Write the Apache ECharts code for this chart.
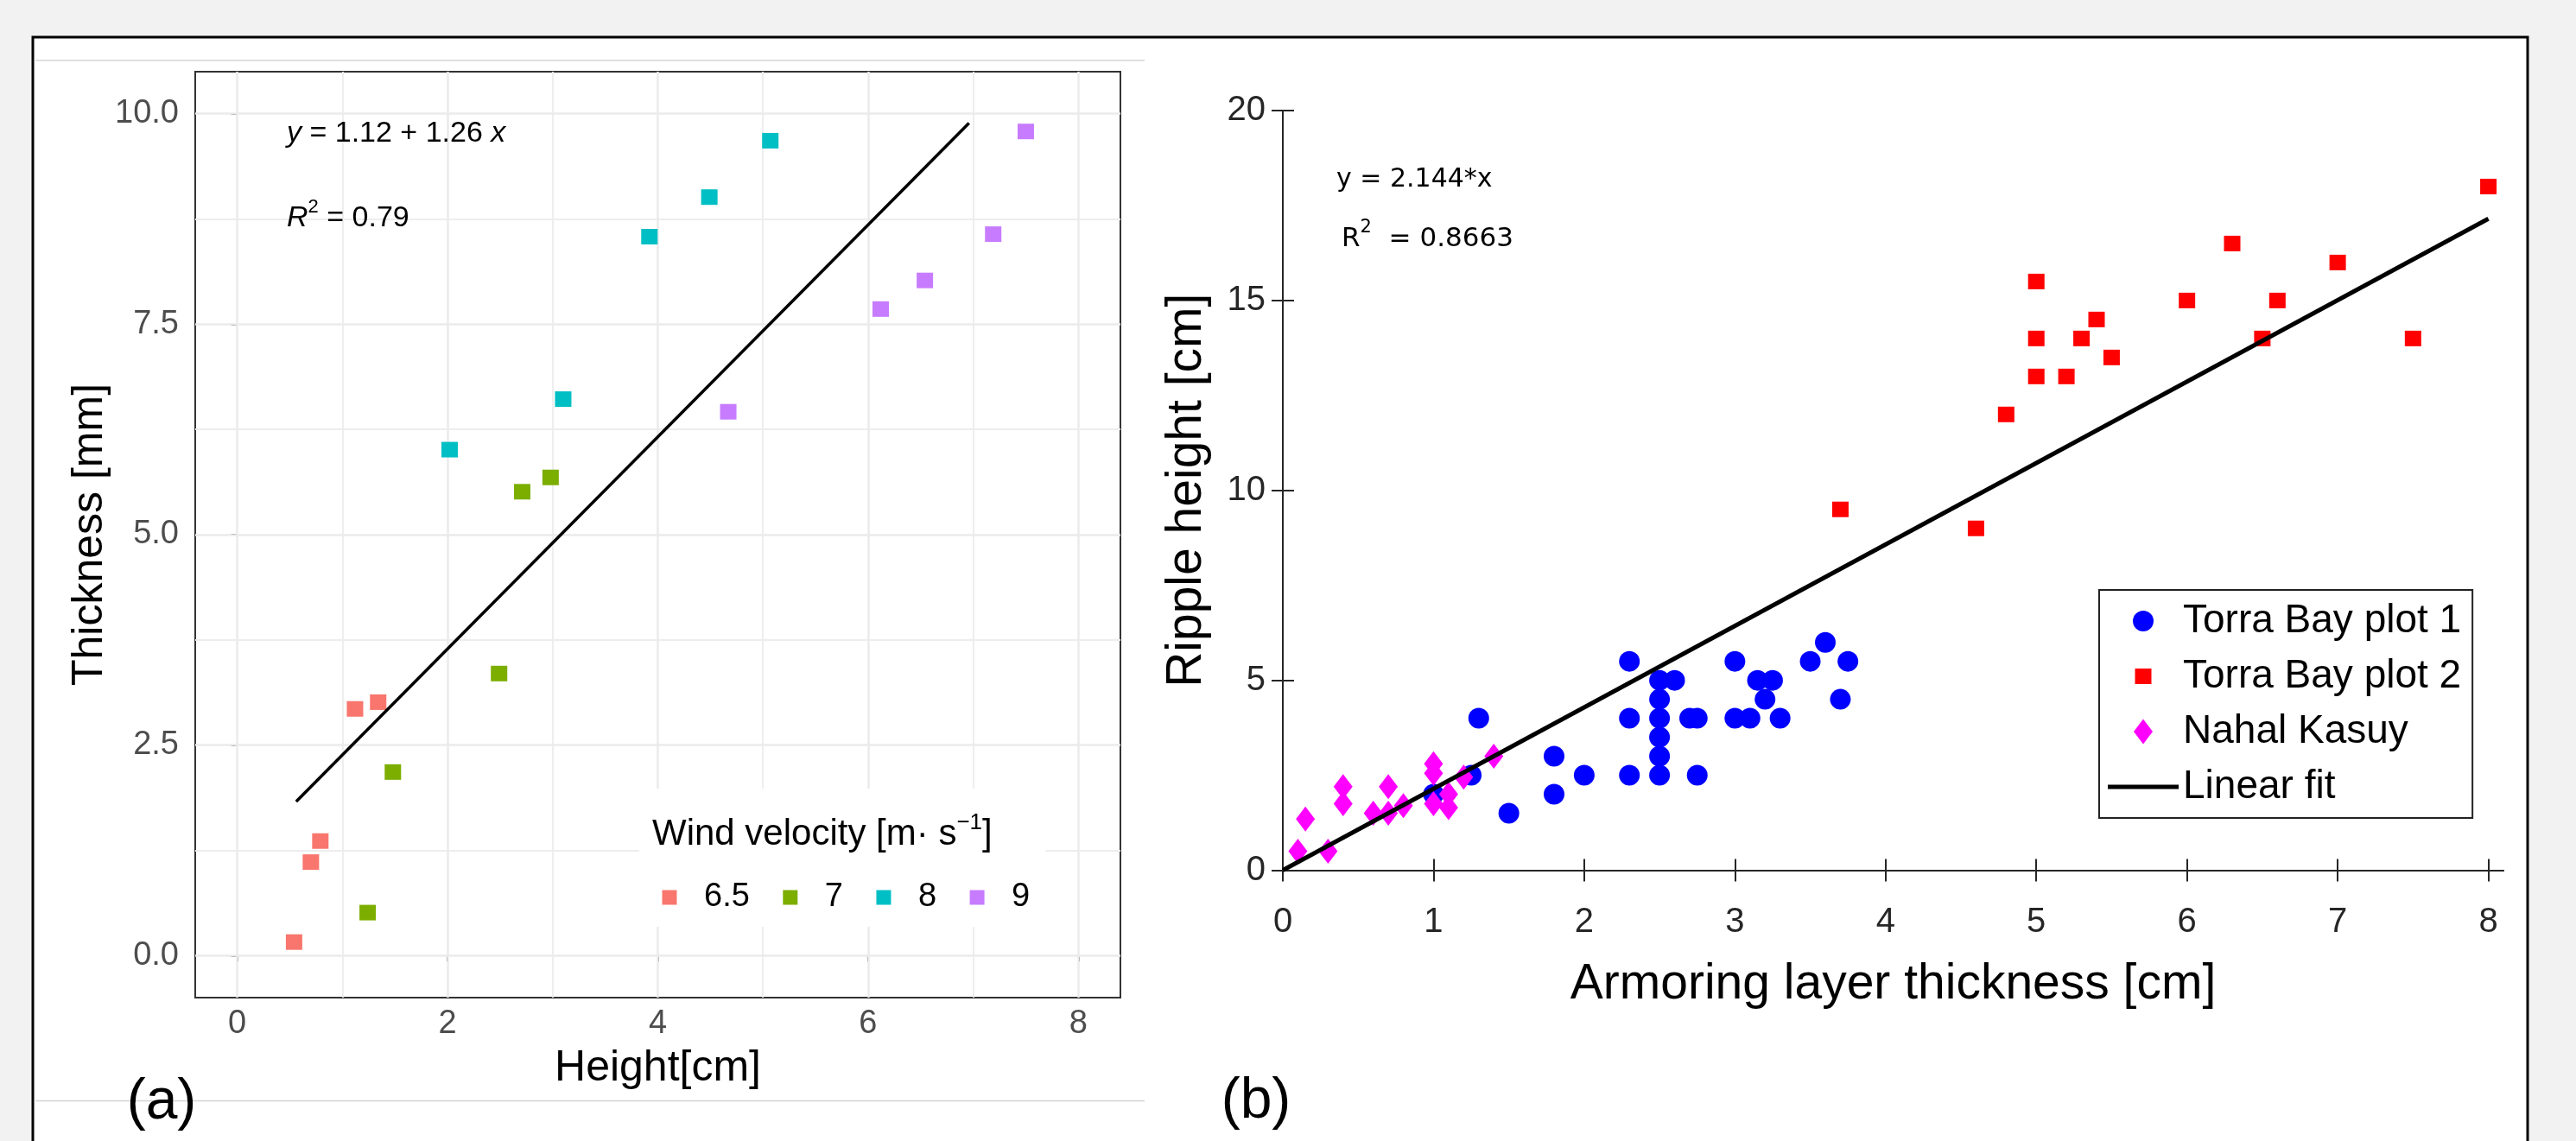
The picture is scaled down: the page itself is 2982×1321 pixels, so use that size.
<!DOCTYPE html>
<html>
<head>
<meta charset="utf-8">
<script src="https://cdn.jsdelivr.net/npm/echarts@6/dist/echarts.min.js"></script>
<style>
html,body{margin:0;padding:0;background:#f2f2f2;}
#c{width:2982px;height:1321px;}
</style>
</head>
<body>
<div id="c"></div>
<script>
// ---------- Panel (a): Thickness vs Height, by wind velocity ----------
const windLevels = ['6.5', '7', '8', '9'];
const a65X = [0.54, 0.70, 0.79, 1.12, 1.34];
const a65Y = [0.16, 1.11, 1.36, 2.93, 3.01];
const a7X  = [1.24, 1.48, 2.49, 2.71, 2.98];
const a7Y  = [0.51, 2.18, 3.35, 5.51, 5.68];
const a8X  = [2.02, 3.10, 3.92, 4.49, 5.07];
const a8Y  = [6.01, 6.61, 8.54, 9.01, 9.68];
const a9X  = [4.67, 6.12, 6.54, 7.19, 7.50];
const a9Y  = [6.46, 7.68, 8.02, 8.57, 9.79];
const aFitX = [0.56, 6.96];
const aFitY = [1.83, 9.89];
const aXTicks = [0, 2, 4, 6, 8];
const aXMinor = [1, 3, 5, 7];
const aYTicks = [0, 2.5, 5, 7.5, 10];
const aYMinor = [1.25, 3.75, 6.25, 8.75];

// ---------- Panel (b): Ripple height vs Armoring layer thickness ----------
const bNames = ['Torra Bay plot 1', 'Torra Bay plot 2', 'Nahal Kasuy', 'Linear fit'];
const b1X = [1.0, 1.25, 1.3, 1.5, 1.8, 1.8, 2.0, 2.3, 2.3, 2.3, 2.5, 2.5, 2.5, 2.5, 2.5, 2.5,
             2.6, 2.7, 2.75, 2.75, 3.0, 3.0, 3.1, 3.15, 3.25, 3.2, 3.3, 3.5, 3.6, 3.75, 3.7];
const b1Y = [2.0, 2.5, 4.0, 1.5, 3.0, 2.0, 2.5, 5.5, 4.0, 2.5, 5.0, 4.5, 4.0, 3.5, 3.0, 2.5,
             5.0, 4.0, 4.0, 2.5, 5.5, 4.0, 4.0, 5.0, 5.0, 4.5, 4.0, 5.5, 6.0, 5.5, 4.5];
const b2X = [3.7, 4.6, 4.8, 5.0, 5.2, 5.0, 5.3, 5.0, 5.4, 5.5, 6.0, 6.3, 6.5, 6.6, 7.0, 7.5, 8.0];
const b2Y = [9.5, 9.0, 12.0, 13.0, 13.0, 14.0, 14.0, 15.5, 14.5, 13.5, 15.0, 16.5, 14.0, 15.0, 16.0, 14.0, 18.0];
const b3X = [0.1, 0.3, 0.15, 0.4, 0.4, 0.6, 0.7, 0.7, 0.8, 1.0, 1.0, 1.0, 1.1, 1.1, 1.2, 1.4];
const b3Y = [0.5, 0.5, 1.35, 2.2, 1.75, 1.5, 2.2, 1.5, 1.7, 2.8, 2.55, 1.75, 2.0, 1.65, 2.45, 3.0];
const bFitX = [0, 8];
const bFitY = [0, 17.152];
const bXTicks = [0, 1, 2, 3, 4, 5, 6, 7, 8];
const bYTicks = [0, 5, 10, 15, 20];

const pts = (xs, ys) => xs.map((x, i) => [x, ys[i]]);

const FONT = 'Liberation Sans';
const aColors = ['#F8766D', '#7CAE00', '#00BFC4', '#C77CFF'];
const aData = [pts(a65X, a65Y), pts(a7X, a7Y), pts(a8X, a8Y), pts(a9X, a9Y)];

const chart = echarts.init(document.getElementById('c'), null, {renderer: 'canvas'});

const gridMarks = [].concat(
  aXMinor.map(v => ({xAxis: v, lineStyle: {color: '#ededed', width: 1.8}})),
  aYMinor.map(v => ({yAxis: v, lineStyle: {color: '#ededed', width: 1.8}})),
  aXTicks.map(v => ({xAxis: v, lineStyle: {color: '#ebebeb', width: 2.5}})),
  aYTicks.map(v => ({yAxis: v, lineStyle: {color: '#ebebeb', width: 2.5}}))
);

const series = [
  {
    type: 'line', name: 'gridA', data: [], xAxisIndex: 0, yAxisIndex: 0, silent: true,
    markLine: {
      silent: true, z: 1, symbol: ['none', 'none'], label: {show: false},
      emphasis: {disabled: true}, animation: false,
      lineStyle: {type: 'solid'}, data: gridMarks
    }
  }
];
windLevels.forEach((w, i) => {
  series.push({
    type: 'scatter', name: w, xAxisIndex: 0, yAxisIndex: 0, z: 3,
    symbol: 'rect', symbolSize: [19, 18], data: aData[i],
    itemStyle: {color: aColors[i], opacity: 1}
  });
});
series.push({
  type: 'line', name: 'fitA', xAxisIndex: 0, yAxisIndex: 0, z: 4,
  data: pts(aFitX, aFitY), symbol: 'none', color: '#000',
  lineStyle: {color: '#000', width: 3.5}
});
series.push({
  type: 'scatter', name: bNames[0], xAxisIndex: 1, yAxisIndex: 1, z: 3,
  symbol: 'circle', symbolSize: 24, data: pts(b1X, b1Y),
  itemStyle: {color: '#0000FF', opacity: 1}
});
series.push({
  type: 'scatter', name: bNames[1], xAxisIndex: 1, yAxisIndex: 1, z: 3,
  symbol: 'rect', symbolSize: [19, 18], data: pts(b2X, b2Y),
  itemStyle: {color: '#FF0000', opacity: 1}
});
series.push({
  type: 'scatter', name: bNames[2], xAxisIndex: 1, yAxisIndex: 1, z: 3,
  symbol: 'diamond', symbolSize: [22, 29], data: pts(b3X, b3Y),
  itemStyle: {color: '#FF00FF', opacity: 1}
});
series.push({
  type: 'line', name: bNames[3], xAxisIndex: 1, yAxisIndex: 1, z: 4,
  data: pts(bFitX, bFitY), symbol: 'none', color: '#000',
  lineStyle: {color: '#000', width: 5}
});

const bAxisLine = {show: true, lineStyle: {color: '#262626', width: 2}};
const bTick = {show: true, inside: true, length: 13, lineStyle: {color: '#262626', width: 2}};

const tok = (size, extra) => Object.assign({fontSize: size, fontFamily: FONT, fill: '#000'}, extra || {});

const option = {
  backgroundColor: '#f2f2f2',
  animation: false,
  textStyle: {fontFamily: FONT},
  grid: [
    {left: 226, top: 83, width: 1071, height: 1072, show: true, borderColor: '#333', borderWidth: 2, backgroundColor: 'transparent'},
    {left: 1485, top: 128, width: 1413, height: 879.5}
  ],
  xAxis: [
    {
      gridIndex: 0, type: 'value', min: -0.4, max: 8.4,
      name: 'Height[cm]', nameLocation: 'middle', nameGap: 57,
      nameTextStyle: {fontSize: 50, color: '#000', fontFamily: FONT},
      axisLine: {show: false}, splitLine: {show: false},
      axisTick: {show: true, customValues: aXTicks, length: 7, lineStyle: {color: '#333', width: 2}},
      axisLabel: {customValues: aXTicks, fontSize: 38, color: '#4d4d4d', margin: 12, fontFamily: FONT}
    },
    {
      gridIndex: 1, type: 'value', min: 0, max: 8.1, position: 'bottom',
      name: 'Armoring layer thickness [cm]', nameLocation: 'middle', nameGap: 104,
      nameTextStyle: {fontSize: 57, color: '#000', fontFamily: FONT},
      axisLine: bAxisLine, splitLine: {show: false},
      axisTick: Object.assign({customValues: bXTicks}, bTick),
      axisLabel: {customValues: bXTicks, fontSize: 40, color: '#262626', margin: 40, fontFamily: FONT}
    },
    {
      gridIndex: 1, type: 'value', min: 0, max: 8.1, position: 'top',
      axisLine: bAxisLine, splitLine: {show: false},
      axisTick: Object.assign({customValues: bXTicks}, bTick),
      axisLabel: {show: false}
    }
  ],
  yAxis: [
    {
      gridIndex: 0, type: 'value', min: -0.5, max: 10.5,
      name: 'Thickness [mm]', nameLocation: 'middle', nameGap: 95,
      nameTextStyle: {fontSize: 50, color: '#000', fontFamily: FONT},
      axisLine: {show: false}, splitLine: {show: false},
      axisTick: {show: true, customValues: aYTicks, length: 7, lineStyle: {color: '#333', width: 2}},
      axisLabel: {customValues: aYTicks, fontSize: 38, color: '#4d4d4d', margin: 19, fontFamily: FONT,
                  formatter: v => Number(v).toFixed(1)}
    },
    {
      gridIndex: 1, type: 'value', min: 0, max: 20, interval: 5, position: 'left',
      name: 'Ripple height [cm]', nameLocation: 'middle', nameGap: 82,
      nameTextStyle: {fontSize: 57, color: '#000', fontFamily: FONT},
      axisLine: bAxisLine, splitLine: {show: false},
      axisTick: Object.assign({customValues: bYTicks}, bTick),
      axisLabel: {customValues: bYTicks, fontSize: 40, color: '#262626', margin: 20, fontFamily: FONT}
    },
    {
      gridIndex: 1, type: 'value', min: 0, max: 20, interval: 5, position: 'right',
      axisLine: bAxisLine, splitLine: {show: false},
      axisTick: Object.assign({customValues: bYTicks}, bTick),
      axisLabel: {show: false}
    }
  ],
  legend: [
    {
      orient: 'horizontal', left: 740, top: 913, selectedMode: false,
      padding: [107, 18, 15, 0], backgroundColor: '#fff',
      itemWidth: 70, itemHeight: 17, itemGap: 12,
      textStyle: {fontSize: 38, lineHeight: 38, color: '#000', fontFamily: FONT},
      data: windLevels.map(w => ({name: w, icon: 'path://M0,0M70,17M26.5,0H43.5V17H26.5Z'}))
    },
    {
      orient: 'vertical', left: 2430, top: 683, selectedMode: false,
      padding: [13, 13, 13, 10], backgroundColor: '#fff', borderColor: '#222', borderWidth: 2,
      itemWidth: 82, itemHeight: 31, itemGap: 18,
      textStyle: {fontSize: 46, lineHeight: 46, color: '#000', fontFamily: FONT},
      data: [
        {name: bNames[0], icon: 'path://M0,0M31,31M3.5,15.5A12,12,0,1,1,27.5,15.5A12,12,0,1,1,3.5,15.5Z'},
        {name: bNames[1], icon: 'path://M0,0M31,31M6,6.5H25V24.5H6Z'},
        {name: bNames[2], icon: 'path://M0,0M31,31M4.5,15.5L15.5,1L26.5,15.5L15.5,30Z'},
        {name: bNames[3], icon: 'path://M0,0H82V5H0Z'}
      ]
    }
  ],
  graphic: [
    {type: 'rect', z: -1, shape: {x: 38, y: 43, width: 2888, height: 1320},
     style: {fill: '#fff', stroke: '#000', lineWidth: 3}},
    {type: 'line', z: -1, shape: {x1: 41, y1: 70, x2: 1325, y2: 70}, style: {stroke: '#d4d4d4', lineWidth: 1.5}},
    {type: 'line', z: -1, shape: {x1: 41, y1: 1274.5, x2: 1325, y2: 1274.5}, style: {stroke: '#d4d4d4', lineWidth: 1.5}},
    {type: 'text', x: 332, y: 155, z: 10, style: {
      text: '{i|y}{n| = 1.12 + 1.26 }{i|x}', align: 'left', verticalAlign: 'middle',
      rich: {i: tok(34, {fontStyle: 'italic', lineHeight: 48}), n: tok(34, {lineHeight: 48})}
    }},
    {type: 'text', x: 332, y: 253, z: 10, style: {
      text: '{i|R}{s|2}{n| = 0.79}', align: 'left', verticalAlign: 'middle',
      rich: {i: tok(34, {fontStyle: 'italic', lineHeight: 48}), s: tok(22, {lineHeight: 20, verticalAlign: 'top'}), n: tok(34, {lineHeight: 48})}
    }},
    {type: 'text', x: 1547, y: 208, z: 10, style: {
      text: '{n|y = 2.144*x}', align: 'left', verticalAlign: 'middle',
      rich: {n: tok(30, {fontFamily: 'DejaVu Sans', lineHeight: 44})}
    }},
    {type: 'text', x: 1553, y: 277, z: 10, style: {
      text: '{n|R}{s|2}{n|  = 0.8663}', align: 'left', verticalAlign: 'middle',
      rich: {n: tok(31, {fontFamily: 'DejaVu Sans', lineHeight: 48}), s: tok(21, {fontFamily: 'DejaVu Sans', lineHeight: 20, verticalAlign: 'top'})}
    }},
    {type: 'text', x: 755, y: 966, z: 10, style: {
      text: '{n|Wind velocity [m· s}{s|\u22121}{n|]}', align: 'left', verticalAlign: 'middle',
      rich: {n: tok(42, {lineHeight: 52}), s: tok(26, {lineHeight: 16, verticalAlign: 'top'})}
    }},
    {type: 'text', x: 187, y: 1277, z: 10, style: {
      text: '(a)', align: 'center', verticalAlign: 'middle', fontSize: 66, fontFamily: FONT, fill: '#000'
    }},
    {type: 'text', x: 1454, y: 1276, z: 10, style: {
      text: '(b)', align: 'center', verticalAlign: 'middle', fontSize: 66, fontFamily: FONT, fill: '#000'
    }}
  ],
  series: series
};
chart.setOption(option);
</script>
</body>
</html>
